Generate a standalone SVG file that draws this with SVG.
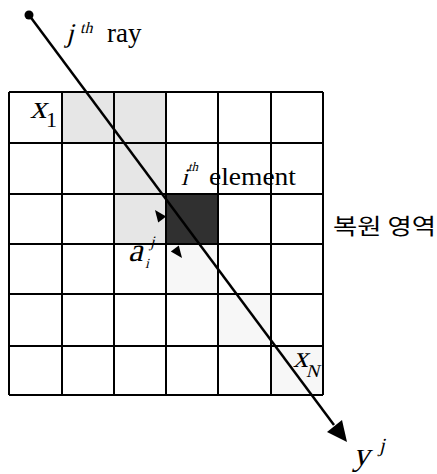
<svg xmlns="http://www.w3.org/2000/svg" width="437" height="474" viewBox="0 0 437 474">
<style>
.grid{stroke:#000;stroke-width:2;fill:none}
.lt{fill:#e6e6e6}
.ft{fill:#f7f7f7}
.it{font-family:"Liberation Serif","Times New Roman",serif;fill:#000}
.rm{font-family:"Liberation Serif","Times New Roman",serif;fill:#000}
.kr{font-family:"Noto Sans CJK KR",sans-serif;fill:#000}
</style>
<rect width="437" height="474" fill="#fff"/>
<g id="cells">
<rect class="lt" x="62" y="92" width="52" height="51"/>
<rect class="lt" x="114" y="92" width="52" height="51"/>
<rect class="lt" x="114" y="143" width="52" height="51"/>
<rect class="lt" x="114" y="194" width="52" height="50"/>
<rect class="ft" x="166" y="244" width="52" height="50"/>
<rect class="ft" x="218" y="294" width="53" height="52"/>
<rect class="ft" x="271" y="346" width="52" height="49"/>
</g>
<g id="element">
<rect x="166" y="194" width="52" height="50" fill="#303030"/>
</g>
<g id="grid">
<path class="grid" d="M9,92H323M9,143H323M9,194H323M9,244H323M9,294H323M9,346H323M9,395H323M9,92V395M62,92V395M114,92V395M166,92V395M218,92V395M271,92V395M323,92V395"/>
</g>
<g id="connectors">
<circle cx="29" cy="15" r="4.5" fill="#000"/>
<line x1="29" y1="15" x2="334" y2="425" stroke="#000" stroke-width="2.5"/>
<path d="M347,442 L327,432 L342,420 z" fill="#000"/>
<path d="M155,210 L166.2,216.6 L158.2,222.6 z" fill="#000"/>
<path d="M182,258 L170.8,251.4 L178.8,245.4 z" fill="#000"/>
</g>
<g id="labels">
<text class="it" transform="translate(66,42) skewX(-14)" font-size="27">j</text>
<text class="it" transform="translate(80,33) skewX(-14)" font-size="16">th</text>
<text class="rm" x="107" y="42" font-size="27">ray</text>
<text class="it" transform="translate(181,185) skewX(-14)" font-size="24">i</text>
<text class="it" transform="translate(188,171) skewX(-14)" font-size="13">th</text>
<text class="rm" x="209" y="185" font-size="26" textLength="87" lengthAdjust="spacingAndGlyphs">element</text>
<text class="it" transform="translate(30,118) skewX(-14)" font-size="33">x</text>
<text class="rm" x="46" y="127" font-size="22">1</text>
<text class="it" transform="translate(293,367) skewX(-14)" font-size="30">x</text>
<text class="it" transform="translate(306,377) skewX(-14)" font-size="18">N</text>
<text class="it" transform="translate(353,465) skewX(-14)" font-size="33">y</text>
<text class="it" transform="translate(379,452) skewX(-14)" font-size="20">j</text>
<text class="it" transform="translate(128,261) skewX(-14)" font-size="33">a</text>
<text class="it" transform="translate(145,268) skewX(-14)" font-size="14">i</text>
<text class="it" transform="translate(150,247) skewX(-14)" font-size="16">j</text>
<text class="kr" x="333" y="234" font-size="22" textLength="103" lengthAdjust="spacingAndGlyphs">복원 영역</text>
</g>
</svg>
